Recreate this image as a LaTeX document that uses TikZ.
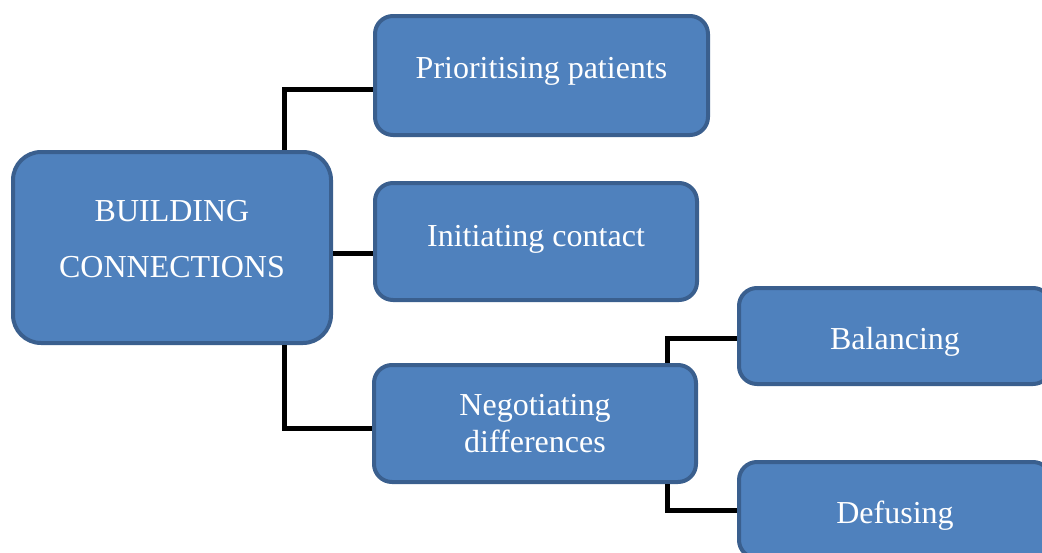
\documentclass[tikz,border=0pt]{standalone}
\usepackage{fontspec}
\setmainfont{Liberation Serif}
\definecolor{boxfill}{HTML}{4F81BD}
\definecolor{boxedge}{HTML}{3A5F8E}
\begin{document}
\begin{tikzpicture}[x=1pt,y=-1pt,
  box/.style={draw=boxedge, line width=4pt, fill=boxfill, rounded corners=18pt,
    text=white, inner sep=0pt, align=center,
    font=\fontsize{32}{37}\selectfont},
  link/.style={draw=black, line width=5pt}]
\useasboundingbox (0,0) rectangle (1042,552);
\clip (0,0) rectangle (1042,552);

% boxes
\node[box, rounded corners=28pt, minimum width=318pt, minimum height=191pt,
      text height=60pt, text depth=0pt, font=\fontsize{32}{56}\selectfont]
  (bc) at (172,247.5) {BUILDING\\CONNECTIONS};
\node[box, minimum width=333pt, minimum height=119pt, text height=5pt, text depth=0pt]
  (pp) at (541.5,75.5) {Prioritising patients};
\node[box, minimum width=322pt, minimum height=117pt, text height=9pt, text depth=0pt]
  (ic) at (536,241.5) {Initiating contact};
\node[box, minimum width=322pt, minimum height=117pt, text height=58pt, text depth=0pt]
  (nd) at (535,423.5) {Negotiating\\differences};
\node[box, minimum width=312pt, minimum height=96pt, text height=26pt, text depth=0pt]
  (bal) at (895,336) {Balancing};
\node[box, minimum width=312pt, minimum height=96pt, text height=26pt, text depth=0pt]
  (def) at (895,510) {Defusing};

% connector columns
\coordinate (trunk) at (284,0);
\coordinate (branch) at (667,0);

% connectors
\draw[link] (trunk |- bc.north) |- ([yshift=-13.5pt]pp.west);
\draw[link] ([yshift=-5.5pt]bc.east) -- ([yshift=-11.5pt]ic.west);
\draw[link] (trunk |- bc.south) |- ([yshift=-4.5pt]nd.west);
\draw[link] (branch |- nd.north) |- ([yshift=-2pt]bal.west);
\draw[link] (branch |- nd.south) |- (def.west);
\end{tikzpicture}
\end{document}
